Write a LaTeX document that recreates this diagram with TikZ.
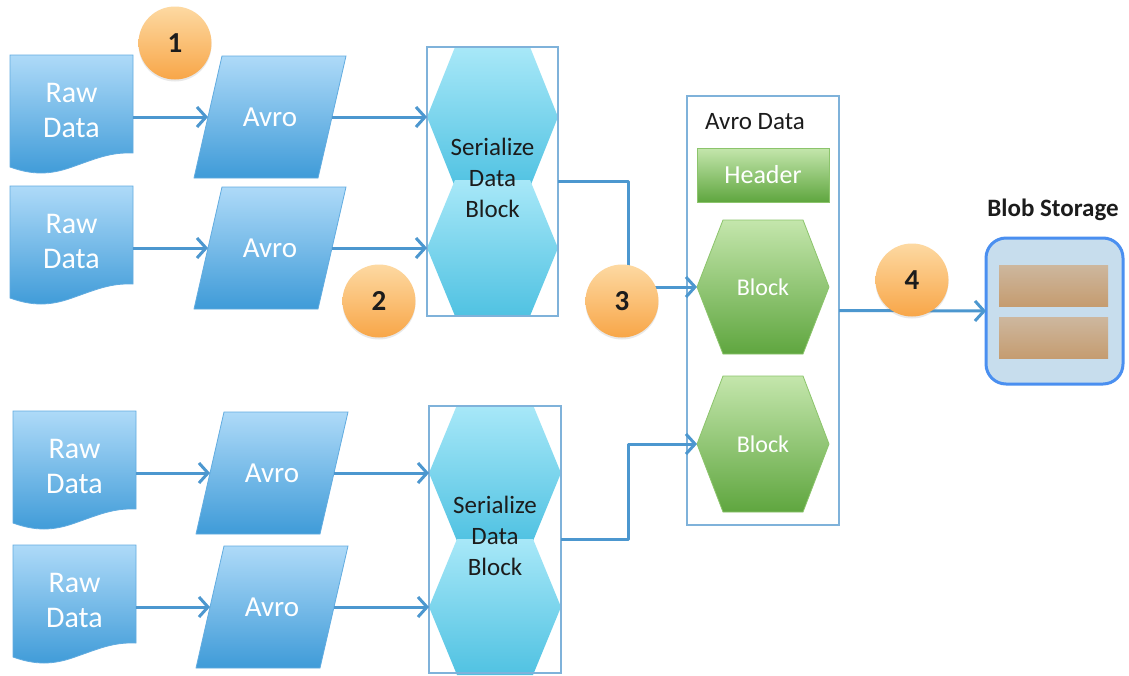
\documentclass[tikz,border=0pt]{standalone}
\usepackage{fontspec}
\setmainfont{Carlito}
\usetikzlibrary{arrows.meta,calc,shadows}

\definecolor{arrowblue}{HTML}{4C97CF}
\definecolor{docTop}{HTML}{AEDAF8}
\definecolor{docBot}{HTML}{3F9BD8}
\definecolor{docLine}{HTML}{62ACE0}
\definecolor{cyTop}{HTML}{A8E8F8}
\definecolor{cyBot}{HTML}{50C2E2}
\definecolor{grTop}{HTML}{C4E6AC}
\definecolor{grBot}{HTML}{5FA63F}
\definecolor{grLine}{HTML}{8CC46C}
\definecolor{frameblue}{HTML}{7FB2DA}
\definecolor{orTop}{HTML}{FDD9A2}
\definecolor{orBot}{HTML}{F8A648}
\definecolor{blobFill}{HTML}{C7DDED}
\definecolor{blobLine}{HTML}{4A8FF0}
\definecolor{tanTop}{HTML}{CDB79E}
\definecolor{tanBot}{HTML}{C59C70}
\definecolor{ink}{HTML}{1C1C1C}

% outline of a flowchart "document" symbol, drawn inside a named slot node
\newcommand\docpaper[1]{%
  \begin{scope}[shift={(#1.north west)}]
    \path[docfill] (0,0) -- (123,0) -- (123,98)
      .. controls (100,97) and (85,104) .. (62,112)
      .. controls (40,120) and (22,120) .. (0,112) -- cycle;
  \end{scope}}
% parallelogram whose left/right edge midpoints are the slot's west/east anchors
\newcommand\slanted[1]{%
  \path[docfill] ([xshift=14pt]#1.north west) -- ([xshift=14pt]#1.north east)
    -- ([xshift=-14pt]#1.south east) -- ([xshift=-14pt]#1.south west) -- cycle;}
% elongated hexagon filling a slot node; #2 = horizontal slant, #3 = style
\newcommand\hexagon[3]{%
  \path[#3] ([xshift=#2]#1.north west) -- ([xshift=-#2]#1.north east) -- (#1.east)
    -- ([xshift=-#2]#1.south east) -- ([xshift=#2]#1.south west) -- (#1.west) -- cycle;}

\tikzset{
  slot/.style={inner sep=0pt, outer sep=0pt},
  docfill/.style={top color=docTop, bottom color=docBot, draw=docLine, line width=0.8pt},
  cyanfill/.style={top color=cyTop, bottom color=cyBot, draw=none},
  greenfill/.style={top color=grTop, bottom color=grBot, draw=grLine, line width=0.8pt},
  frame/.style={slot, draw=frameblue, line width=1.5pt},
  arr/.style={draw=arrowblue, line width=3pt, line join=round,
    -{Straight Barb[length=9pt,width=20pt]}},
  whitetxt/.style={text=white, align=center},
  darktxt/.style={text=ink, align=center},
  bignum/.style={circle, minimum size=73pt, inner sep=0pt, top color=orTop,
    bottom color=orBot, text=ink, font=\fontsize{29}{30}\selectfont\bfseries,
    drop shadow={opacity=0.18, shadow xshift=0pt, shadow yshift=-2pt}},
  storage/.style={slot, minimum width=109pt, minimum height=41pt,
    top color=tanTop, bottom color=tanBot},
}

\begin{document}
\begin{tikzpicture}[x=1pt, y=-1pt]
  \useasboundingbox (0,0) rectangle (1129,675);
  \fill[white] (0,0) rectangle (1129,675);

  % ---- anchor slots -------------------------------------------------
  \node[slot, minimum width=123pt, minimum height=124pt] (doc1) at (71.5,117) {};
  \node[slot, minimum width=123pt, minimum height=124pt] (doc2) at (71.5,248) {};
  \node[slot, minimum width=123pt, minimum height=124pt] (doc3) at (74.5,473) {};
  \node[slot, minimum width=123pt, minimum height=124pt] (doc4) at (74.5,607) {};

  \node[slot, minimum width=124pt, minimum height=122pt] (avro1) at (270,117) {};
  \node[slot, minimum width=124pt, minimum height=122pt] (avro2) at (270,248) {};
  \node[slot, minimum width=124pt, minimum height=122pt] (avro3) at (272,473) {};
  \node[slot, minimum width=124pt, minimum height=122pt] (avro4) at (272,607) {};

  \node[slot, minimum width=131pt, minimum height=140pt] (ser1a) at (492.5,117) {};
  \node[slot, minimum width=131pt, minimum height=136pt] (ser1b) at (492.5,248) {};
  \node[slot, minimum width=132pt, minimum height=136pt] (ser2a) at (495,473) {};
  \node[slot, minimum width=132pt, minimum height=136pt] (ser2b) at (495,607) {};

  \node[slot, minimum width=132pt, minimum height=134pt] (blk1) at (763,287) {};
  \node[slot, minimum width=132pt, minimum height=136pt] (blk2) at (763,444) {};

  % ---- raw data documents and Avro encoders -------------------------
  \foreach \n in {doc1,doc2,doc3,doc4} {\docpaper{\n}}
  \foreach \n in {avro1,avro2,avro3,avro4} {\slanted{\n}}

  \foreach \n in {doc1,doc2,doc3,doc4}
    \node[whitetxt, font=\fontsize{30}{35}\selectfont] (\n t) at ([yshift=7pt]\n.center) {Raw\\Data};
  \foreach \n in {avro1,avro2,avro3,avro4}
    \node[whitetxt, font=\fontsize{29}{32}\selectfont] (\n t) at (\n) {Avro};

  % ---- serialize blocks ---------------------------------------------
  \hexagon{ser1a}{28pt}{cyanfill}
  \hexagon{ser1b}{28pt}{cyanfill}
  \hexagon{ser2a}{28pt}{cyanfill}
  \hexagon{ser2b}{28pt}{cyanfill}
  \node[frame, minimum width=131pt, minimum height=269pt] (ser1) at (492.5,181.5) {};
  \node[frame, minimum width=132pt, minimum height=267pt] (ser2) at (495,539.5) {};
  \node[darktxt, font=\fontsize{25}{31}\selectfont] (ser1t) at (492.5,178) {Serialize\\Data\\Block};
  \node[darktxt, font=\fontsize{25}{31}\selectfont] (ser2t) at (495,536) {Serialize\\Data\\Block};

  % ---- Avro data file -----------------------------------------------
  \node[frame, minimum width=152pt, minimum height=429pt] (ad) at (763,310.5) {};
  \node[darktxt, font=\fontsize{25}{28}\selectfont] (adt) at (755,122) {Avro Data};
  \node[slot, minimum width=132pt, minimum height=54pt, greenfill, whitetxt,
        font=\fontsize{26}{28}\selectfont] (hdr) at (763,175) {Header};
  \hexagon{blk1}{26pt}{greenfill}
  \hexagon{blk2}{26pt}{greenfill}
  \node[whitetxt, font=\fontsize{24}{26}\selectfont] (blk1t) at (blk1) {Block};
  \node[whitetxt, font=\fontsize{24}{26}\selectfont] (blk2t) at (blk2) {Block};

  % ---- blob storage -------------------------------------------------
  \node[slot, minimum width=137pt, minimum height=146pt, rounded corners=20pt,
        fill=blobFill, draw=blobLine, line width=3pt] (blob) at (1054.5,311) {};
  \node[storage] (st1) at (1053.5,285.5) {};
  \node[storage] (st2) at (1053.5,338) {};
  \node[darktxt, font=\fontsize{25}{28}\selectfont\bfseries] (blobt) at (1053,210) {Blob Storage};

  % ---- connectors ---------------------------------------------------
  \draw[arr] (doc1.east) -- (avro1.west);
  \draw[arr] (doc2.east) -- (avro2.west);
  \draw[arr] (doc3.east) -- (avro3.west);
  \draw[arr] (doc4.east) -- (avro4.west);
  \draw[arr] (avro1.east) -- (ser1a.west);
  \draw[arr] (avro2.east) -- (ser1b.west);
  \draw[arr] (avro3.east) -- (ser2a.west);
  \draw[arr] (avro4.east) -- (ser2b.west);
  \draw[arr] (ser1.east) -- ++(70,0) |- (blk1.west);
  \draw[arr] (ser2.east) -- ++(67,0) |- (blk2.west);
  \draw[arr] (ad.east) -- (blob.west);

  % ---- step numbers -------------------------------------------------
  \node[bignum] (s1) at (175,43) {1};
  \node[bignum] (s2) at (379,301) {2};
  \node[bignum] (s3) at (622,301) {3};
  \node[bignum] (s4) at (912,280) {4};
\end{tikzpicture}
\end{document}
